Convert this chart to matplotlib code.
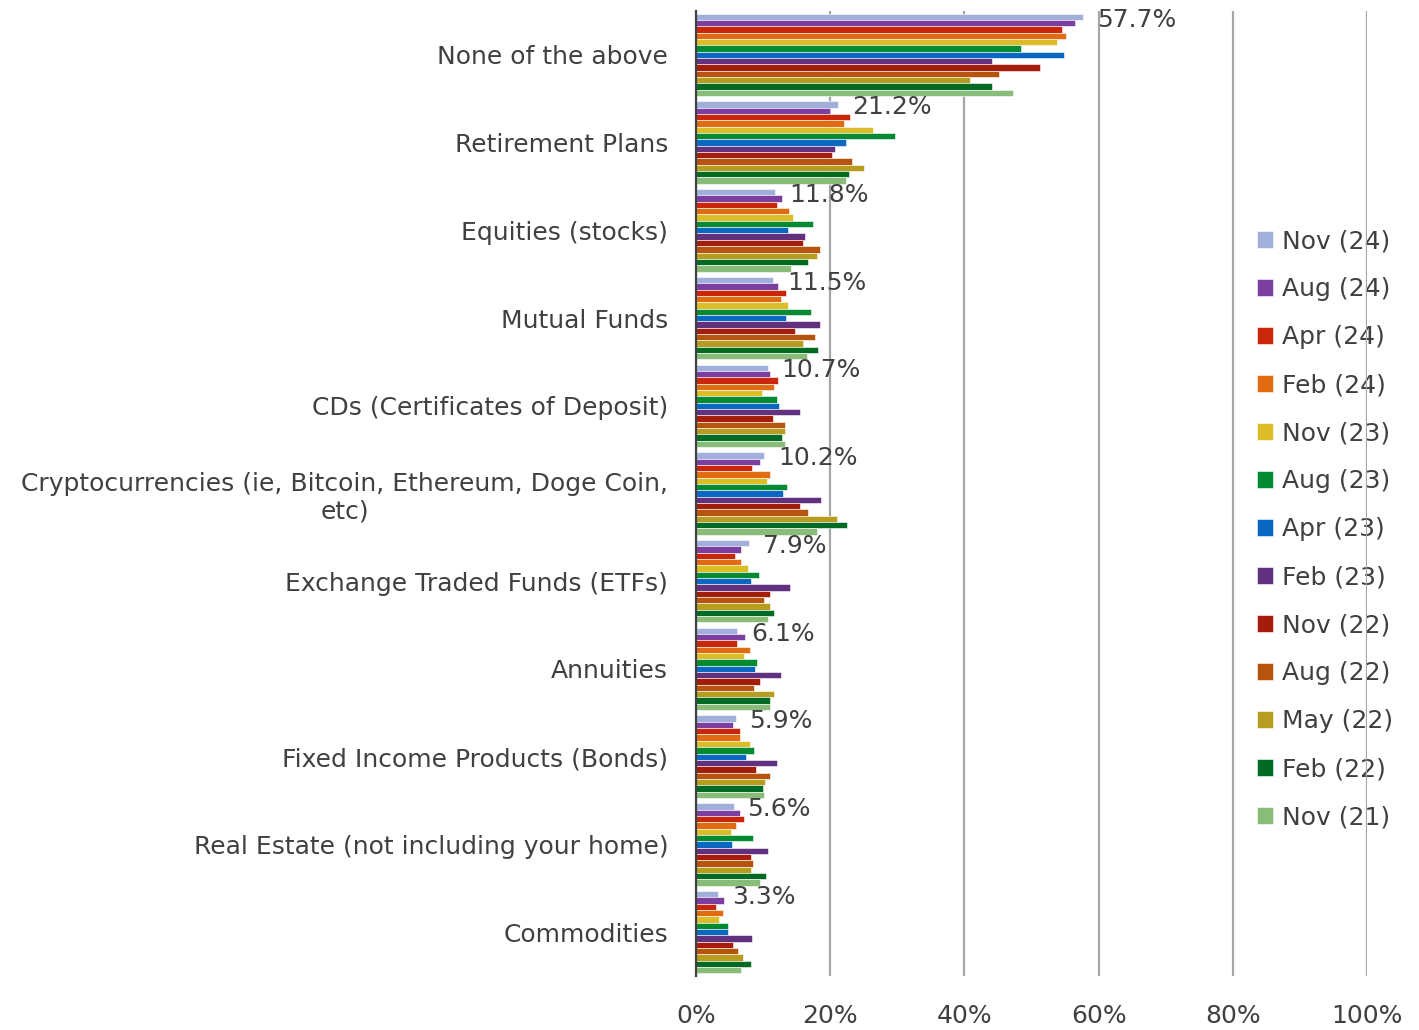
import matplotlib
matplotlib.use("Agg")
import matplotlib.pyplot as plt
import numpy as np

# categories, top to bottom
categories = ["None of the above", "Retirement Plans", "Equities (stocks)", "Mutual Funds",
              "CDs (Certificates of Deposit)",
              "Cryptocurrencies (ie, Bitcoin, Ethereum, Doge Coin,\netc)",
              "Exchange Traded Funds (ETFs)", "Annuities", "Fixed Income Products (Bonds)",
              "Real Estate (not including your home)", "Commodities"]

waves = ["Nov (24)", "Aug (24)", "Apr (24)", "Feb (24)", "Nov (23)", "Aug (23)", "Apr (23)",
         "Feb (23)", "Nov (22)", "Aug (22)", "May (22)", "Feb (22)", "Nov (21)"]

colors = ["#a0b0db", "#7a3f9f", "#c9260b", "#e06b10", "#dcbd27", "#018a31", "#0767c1",
          "#61307f", "#a31d0a", "#b6540d", "#b69d1f", "#016b24", "#8abc79"]

# percent per wave (one list per wave, same order as categories)
nov24 = [57.7, 21.2, 11.8, 11.5, 10.7, 10.2, 7.9, 6.1, 5.9, 5.6, 3.3]
aug24 = [56.5, 20.0, 12.8, 12.2, 11.0, 9.5, 6.7, 7.3, 5.5, 6.5, 4.2]
apr24 = [54.5, 23.0, 12.1, 13.4, 12.2, 8.4, 5.8, 6.1, 6.5, 7.2, 3.0]
feb24 = [55.2, 22.0, 13.9, 12.7, 11.6, 11.1, 6.7, 8.0, 6.5, 5.9, 4.0]
nov23 = [53.8, 26.4, 14.4, 13.7, 9.8, 10.6, 7.7, 7.2, 8.0, 5.2, 3.5]
aug23 = [48.4, 29.7, 17.5, 17.2, 12.0, 13.5, 9.4, 9.1, 8.7, 8.5, 4.7]
apr23 = [54.8, 22.3, 13.7, 13.4, 12.3, 13.0, 8.2, 8.8, 7.5, 5.3, 4.7]
feb23 = [44.1, 20.7, 16.2, 18.5, 15.5, 18.7, 14.0, 12.7, 12.1, 10.8, 8.4]
nov22 = [51.3, 20.2, 15.9, 14.7, 11.5, 15.5, 11.1, 9.5, 9.0, 8.2, 5.5]
aug22 = [45.2, 23.3, 18.5, 17.7, 13.3, 16.7, 10.1, 8.7, 11.1, 8.5, 6.2]
may22 = [40.8, 25.0, 18.0, 16.0, 13.3, 21.0, 11.1, 11.6, 10.3, 8.2, 7.0]
feb22 = [44.1, 22.8, 16.7, 18.2, 12.8, 22.5, 11.6, 11.1, 10.0, 10.5, 8.2]
nov21 = [47.2, 22.3, 14.1, 16.5, 13.3, 18.0, 10.8, 11.0, 10.1, 9.5, 6.7]

series = [nov24, aug24, apr24, feb24, nov23, aug23, apr23, feb23, nov22, aug22, may22, feb22, nov21]

plt.rcParams['font.family'] = ['DejaVu Sans']
text_col = "#404040"

fig = plt.figure(figsize=(14.19, 10.30), dpi=100)
ax = fig.add_axes([696/1419, 54/1030, (1367-696)/1419, (1019-54)/1030])

n = len(series)
group_w = 0.94
h = group_w / n
y = np.arange(len(categories))
for k, (vals, lab, col) in enumerate(zip(series, waves, colors)):
    pos = y - group_w/2 + h*(k + 0.5)
    ax.barh(pos, vals, height=h, color=col, edgecolor="white", linewidth=0.4, label=lab, zorder=3)
    # only the latest wave gets data labels
    if k == 0:
        for p, v in zip(pos, vals):
            ax.annotate(f"{v:.1f}%", (v, p), xytext=(10, -2), textcoords="offset points",
                        va="center", ha="left", fontsize=18, color=text_col, zorder=4)

ax.set_ylim(len(categories) - 0.5, -0.5)
ax.set_xlim(0, 100)
ax.set_xticks(np.arange(0, 101, 20))
ax.set_xticklabels([f"{t}%" for t in range(0, 101, 20)])
ax.set_yticks(y)
ax.set_yticklabels(categories, multialignment="center")
ax.tick_params(axis="y", length=0, labelsize=18, labelcolor=text_col, pad=20)
ax.tick_params(axis="x", length=0, labelsize=18, labelcolor=text_col, pad=20)

ax.grid(axis="x", color="#a6a6a6", linewidth=1.6, zorder=0)
for s in ["top", "right", "bottom"]:
    ax.spines[s].set_visible(False)
ax.spines["left"].set_color("#404040")
ax.spines["left"].set_linewidth(1.6)
ax.spines["left"].set_zorder(5)

leg = ax.legend(loc="center left", bbox_to_anchor=(1234/1419, 1 - 529/1030),
                bbox_transform=fig.transFigure, frameon=False,
                fontsize=18, handlelength=0.65, handleheight=0.65, handletextpad=0.35,
                labelspacing=0.96)
leg.set_zorder(-1)
for t in leg.get_texts():
    t.set_color(text_col)

fig.savefig("out.png", dpi=100, facecolor="white")
